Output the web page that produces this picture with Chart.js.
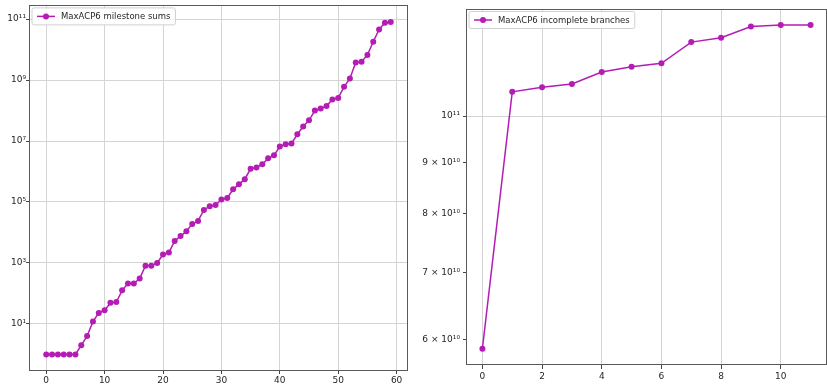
<!DOCTYPE html>
<html>
<head>
<meta charset="utf-8">
<script src="https://cdn.jsdelivr.net/npm/chart.js@4.4.1/dist/chart.umd.min.js"></script>
<style>
  html, body { margin: 0; padding: 0; background: #ffffff; overflow: hidden; width: 827px; height: 390px; }
  #c1 { position: absolute; left: 0; top: 0; }
  #c2 { position: absolute; left: 420px; top: 0; }
</style>
</head>
<body>
<canvas id="c1" width="420" height="390"></canvas>
<canvas id="c2" width="411" height="390"></canvas>
<script>
// ---- Data ----
const milestoneIndex = [0,1,2,3,4,5,6,7,8,9,10,11,12,13,14,15,16,17,18,19,20,21,22,23,24,25,26,27,28,29,30,31,32,33,34,35,36,37,38,39,40,41,42,43,44,45,46,47,48,49,50,51,52,53,54,55,56,57,58,59];
const milestoneSums = [1,1,1,1,1,1,2,4,12,23,28,49,52,126,210,210,310,810,810,1000,
  1900,2200,5300,7600,11000,19000,24000,55000,73000,79000,
  120000,135000,260000,380000,560000,1230000,1350000,1730000,2700000,3400000,
  6600000,7900000,8300000,16600000,30000000,48000000,100000000,117000000,140000000,230000000,
  260000000,600000000,1130000000,3800000000,4000000000,6700000000,18000000000,46000000000,76000000000,80000000000];
const leftXTicks = [0,10,20,30,40,50,60];
const leftYTicks = [1e1,1e3,1e5,1e7,1e9,1e11];
const leftYLabels = ["10¹","10³","10⁵","10⁷","10⁹","10¹¹"];

const branchIndex = [0,1,2,3,4,5,6,7,8,9,10,11];
const incompleteBranches = [5.88e10,1.057e11,1.068e11,1.076e11,1.106e11,1.119e11,1.128e11,1.184e11,1.196e11,1.227e11,1.231e11,1.231e11];
const rightXTicks = [0,2,4,6,8,10];
const rightYTicks = [6e10,7e10,8e10,9e10,1e11];
const rightYLabels = ["6 × 10¹⁰","7 × 10¹⁰","8 × 10¹⁰","9 × 10¹⁰","10¹¹"];

const legendLeft = "MaxACP6 milestone sums";
const legendRight = "MaxACP6 incomplete branches";

// ---- Styles ----
const LINE = '#b41cb4';
const GRID = '#d4d4d4';
const TICKC = '#444444';
const FONT = { family: 'DejaVu Sans', size: 9 };
const LEGEND_FONT_SIZE = 8.5;
const TXT = '#262626';

function frameAndLegend(label) {
  return {
    id: 'frameLegend',
    afterDraw(chart) {
      const ctx = chart.ctx;
      const a = chart.chartArea;
      ctx.save();
      ctx.strokeStyle = '#5a5a5a';
      ctx.lineWidth = 1;
      ctx.strokeRect(Math.round(a.left) + 0.5, Math.round(a.top) + 0.5,
                     Math.round(a.right - a.left) - 1, Math.round(a.bottom - a.top) - 1);
      // legend
      ctx.font = LEGEND_FONT_SIZE + 'px ' + FONT.family;
      const tw = ctx.measureText(label).width;
      const bx = a.left + 3, by = a.top + 2.5;
      const bw = 30 + tw + 4, bh = 17;
      ctx.fillStyle = 'rgba(255,255,255,0.85)';
      ctx.strokeStyle = '#d0d0d0';
      ctx.beginPath();
      if (ctx.roundRect) ctx.roundRect(bx, by, bw, bh, 2); else ctx.rect(bx, by, bw, bh);
      ctx.fill();
      ctx.stroke();
      const cy = by + bh / 2;
      ctx.strokeStyle = LINE;
      ctx.lineWidth = 1.5;
      ctx.beginPath();
      ctx.moveTo(bx + 5, cy);
      ctx.lineTo(bx + 23, cy);
      ctx.stroke();
      ctx.fillStyle = LINE;
      ctx.beginPath();
      ctx.arc(bx + 14, cy, 3, 0, Math.PI * 2);
      ctx.fill();
      ctx.fillStyle = TXT;
      ctx.textBaseline = 'middle';
      ctx.textAlign = 'left';
      ctx.fillText(label, bx + 29, cy + 0.5);
      ctx.restore();
    }
  };
}

function fixedTicks(list) {
  return (scale) => { scale.ticks = list.map(v => ({ value: v })); };
}

// ---- Left chart ----
new Chart(document.getElementById('c1'), {
  type: 'line',
  data: {
    datasets: [{
      label: legendLeft,
      data: milestoneIndex.map((x, i) => ({ x: x, y: milestoneSums[i] })),
      borderColor: LINE,
      backgroundColor: LINE,
      borderWidth: 1.5,
      pointRadius: 3,
      pointBorderWidth: 0,
      pointBackgroundColor: LINE,
      tension: 0
    }]
  },
  options: {
    responsive: false,
    devicePixelRatio: 1,
    animation: false,
    layout: { padding: { left: 0, right: 12, top: 1, bottom: 0 } },
    plugins: { legend: { display: false }, tooltip: { enabled: false } },
    scales: {
      x: {
        type: 'linear',
        min: -2.95, max: 61.95,
        afterBuildTicks: fixedTicks(leftXTicks),
        afterFit: (s) => { s.height = 19; },
        grid: { color: GRID, lineWidth: 1, tickLength: 3, tickColor: TICKC },
        border: { display: false },
        ticks: { font: FONT, color: TXT, padding: 1, maxRotation: 0, autoSkip: false }
      },
      y: {
        type: 'logarithmic',
        min: Math.pow(10, -0.545), max: Math.pow(10, 11.45),
        afterBuildTicks: fixedTicks(leftYTicks),
        afterFit: (s) => { s.width = 29; },
        grid: { color: GRID, lineWidth: 1, tickLength: 3, tickColor: TICKC },
        border: { display: false },
        ticks: { font: FONT, color: TXT, padding: 0, autoSkip: false,
                 callback: (v, i) => leftYLabels[i] }
      }
    }
  },
  plugins: [frameAndLegend(legendLeft)]
});

// ---- Right chart ----
new Chart(document.getElementById('c2'), {
  type: 'line',
  data: {
    datasets: [{
      label: legendRight,
      data: branchIndex.map((x, i) => ({ x: x, y: incompleteBranches[i] })),
      borderColor: LINE,
      backgroundColor: LINE,
      borderWidth: 1.5,
      pointRadius: 3,
      pointBorderWidth: 0,
      pointBackgroundColor: LINE,
      tension: 0
    }]
  },
  options: {
    responsive: false,
    devicePixelRatio: 1,
    animation: false,
    layout: { padding: { left: 0, right: 0, top: 9, bottom: 0 } },
    plugins: { legend: { display: false }, tooltip: { enabled: false } },
    scales: {
      x: {
        type: 'linear',
        min: -0.55, max: 11.55,
        afterBuildTicks: fixedTicks(rightXTicks),
        afterFit: (s) => { s.height = 25; },
        grid: { color: GRID, lineWidth: 1, tickLength: 4, tickColor: TICKC },
        border: { display: false },
        ticks: { font: FONT, color: TXT, padding: 2, maxRotation: 0, autoSkip: false }
      },
      y: {
        type: 'logarithmic',
        min: 5.665e10, max: 1.277e11,
        afterBuildTicks: fixedTicks(rightYTicks),
        afterFit: (s) => { s.width = 46; },
        grid: {
          color: (c) => (c.tick && c.tick.value === 1e11) ? GRID : 'rgba(0,0,0,0)',
          lineWidth: 1, tickLength: 3, tickColor: TICKC
        },
        border: { display: false },
        ticks: { font: FONT, color: TXT, padding: 3, autoSkip: false,
                 callback: (v, i) => rightYLabels[i] }
      }
    }
  },
  plugins: [frameAndLegend(legendRight)]
});
</script>
</body>
</html>
